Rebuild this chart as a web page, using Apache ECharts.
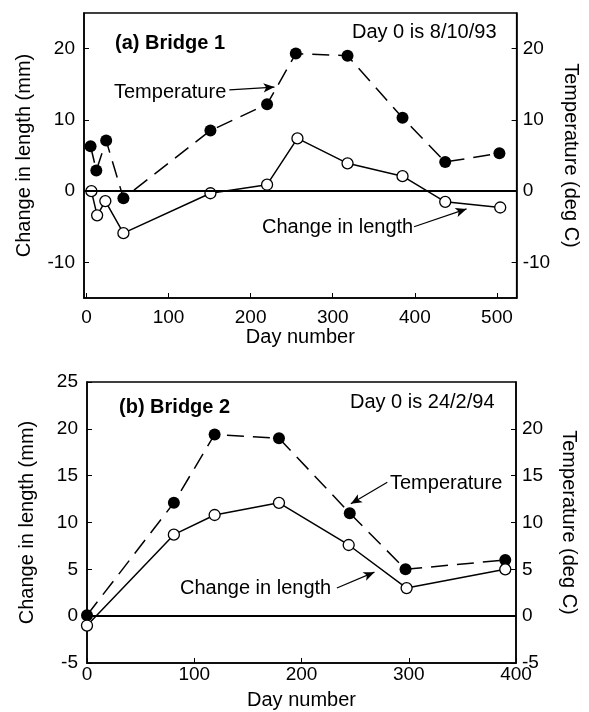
<!DOCTYPE html>
<html>
<head>
<meta charset="utf-8">
<script src="https://cdn.jsdelivr.net/npm/echarts@6/dist/echarts.min.js"></script>
<style>
  html, body { margin: 0; padding: 0; background: #fff; }
  #chart { width: 589px; height: 712px; }
</style>
</head>
<body>
<div id="chart"></div>
<script>
// (a) Bridge 1 - day number, temperature (deg C), change in length (mm)
const b1Days     = [5, 12, 24, 45, 151, 220, 255, 318, 385, 437, 503];
const b1Temp     = [6.3, 2.9, 7.1, -1.0, 8.5, 12.2, 19.3, 19.0, 10.3, 4.1, 5.3];
const b1LenDays  = [6, 13, 23, 45, 151, 220, 257, 318, 385, 437, 504];
const b1Length   = [0, -3.4, -1.4, -5.9, -0.3, 0.9, 7.4, 3.9, 2.1, -1.5, -2.3];

// (b) Bridge 2
const b2Days     = [0, 81, 119, 179, 245, 297, 390];
const b2Temp     = [0.1, 12.1, 19.4, 19.0, 11.0, 5.0, 6.0];
const b2LenDays  = [0, 81, 119, 179, 244, 298, 390];
const b2Length   = [-1.0, 8.7, 10.8, 12.1, 7.6, 3.0, 5.0];

// tick labels
const b1XTicks     = [0, 100, 200, 300, 400, 500];
const b1YTicks     = [-10, 0, 10, 20];
const b2XTicks     = [0, 100, 200, 300, 400];
const b2LeftTicks  = [-5, 0, 5, 10, 15, 20, 25];
const b2RightTicks = [-5, 0, 5, 10, 15, 20];

// annotation arrows (data units: [day, value])
const b1TempArrow = [[174, 14.2], [229, 14.6]];
const b1LenArrow  = [[399, -5.0], [463, -2.5]];
const b2TempArrow = [[280, 14.3], [246, 12.0]];
const b2LenArrow  = [[233, 3.0], [268, 4.7]];

const FONT = '"Liberation Sans", Arial, Helvetica, sans-serif';
const INK = '#000';

const chart = echarts.init(document.getElementById('chart'));

function zip (xs, ys) {
  return xs.map((x, i) => [x, ys[i]]);
}

// 坐标轴通用
function xAxisOf (gridIndex, min, max, ticks) {
  return {
    type: 'value',
    gridIndex: gridIndex,
    min: min,
    max: max,
    name: 'Day number',
    nameLocation: 'middle',
    nameGap: 27,
    nameTextStyle: { fontFamily: FONT, fontSize: 20, color: INK },
    axisLine: { show: true, onZero: false, lineStyle: { color: INK, width: 1.5 } },
    axisTick: { show: true, inside: true, length: 5, customValues: ticks, lineStyle: { color: INK } },
    axisLabel: { customValues: ticks, fontFamily: FONT, fontSize: 19, color: INK, margin: gridIndex === 0 ? 10 : 2 },
    splitLine: { show: false }
  };
}

function yAxisOf (gridIndex, side, min, max, ticks, name) {
  return {
    type: 'value',
    gridIndex: gridIndex,
    position: side,
    min: min,
    max: max,
    name: name,
    nameLocation: 'middle',
    nameRotate: side === 'left' ? 90 : -90,
    nameGap: side === 'left' ? 50 : 43,
    nameTextStyle: { fontFamily: FONT, fontSize: 20, color: INK },
    axisLine: { show: true, onZero: false, lineStyle: { color: INK, width: 1.5 } },
    axisTick: { show: true, inside: true, length: 5, customValues: ticks, lineStyle: { color: INK } },
    axisLabel: { customValues: ticks, fontFamily: FONT, fontSize: 19, color: INK, margin: side === 'left' ? 9 : 6 },
    splitLine: { show: false }
  };
}

function arrow (pair) {
  return [
    { coord: pair[0], symbol: 'none' },
    { coord: pair[1], symbol: 'arrow', symbolSize: [7, 11] }
  ];
}

function tempSeries (xi, yi, data, arrowPair) {
  return {
    type: 'line',
    xAxisIndex: xi,
    yAxisIndex: yi,
    data: data,
    symbol: 'circle',
    symbolSize: 12,
    itemStyle: { color: INK },
    lineStyle: { color: INK, width: 1.5, type: [17, 9] },
    z: 3,
    markLine: {
      silent: true,
      animation: false,
      label: { show: false },
      lineStyle: { color: INK, width: 1.2, type: 'solid' },
      data: [arrow(arrowPair)]
    }
  };
}

function lengthSeries (xi, yi, data, arrowPair) {
  return {
    type: 'line',
    xAxisIndex: xi,
    yAxisIndex: yi,
    data: data,
    symbol: 'circle',
    symbolSize: 11,
    itemStyle: { color: '#fff', borderColor: INK, borderWidth: 1.3 },
    lineStyle: { color: INK, width: 1.5 },
    z: 4,
    markLine: {
      silent: true,
      animation: false,
      symbol: 'none',
      label: { show: false },
      lineStyle: { color: INK, width: 1.2, type: 'solid' },
      data: [{ yAxis: 0, lineStyle: { width: 1.8 } }, arrow(arrowPair)]
    }
  };
}

function label (x, y, text, bold) {
  return {
    type: 'text',
    x: x,
    y: y,
    style: {
      text: text,
      font: (bold ? 'bold ' : '') + '20px ' + FONT,
      fill: INK,
      verticalAlign: 'middle'
    }
  };
}

const option = {
  animation: false,
  backgroundColor: '#fff',
  grid: [
    { left: 84, top: 13, width: 434, height: 285, show: true, borderColor: INK, borderWidth: 1.5 },
    { left: 87, top: 382, width: 429, height: 281, show: true, borderColor: INK, borderWidth: 1.5 }
  ],
  xAxis: [
    xAxisOf(0, -3, 524, b1XTicks),
    xAxisOf(1, 0, 400, b2XTicks)
  ],
  yAxis: [
    yAxisOf(0, 'left', -15, 25, b1YTicks, 'Change in length (mm)'),
    yAxisOf(0, 'right', -15, 25, b1YTicks, 'Temperature (deg C)'),
    yAxisOf(1, 'left', -5, 25, b2LeftTicks, 'Change in length (mm)'),
    yAxisOf(1, 'right', -5, 25, b2RightTicks, 'Temperature (deg C)')
  ],
  series: [
    lengthSeries(0, 0, zip(b1LenDays, b1Length), b1LenArrow),
    tempSeries(0, 1, zip(b1Days, b1Temp), b1TempArrow),
    lengthSeries(1, 2, zip(b2LenDays, b2Length), b2LenArrow),
    tempSeries(1, 3, zip(b2Days, b2Temp), b2TempArrow)
  ],
  graphic: [
    label(115, 43, '(a) Bridge 1', true),
    label(352, 32, 'Day 0 is 8/10/93'),
    label(114, 92, 'Temperature'),
    label(262, 227, 'Change in length'),
    label(119, 407, '(b) Bridge 2', true),
    label(350, 402, 'Day 0 is 24/2/94'),
    label(390, 483, 'Temperature'),
    label(180, 588, 'Change in length')
  ]
};

chart.setOption(option);
</script>
</body>
</html>
